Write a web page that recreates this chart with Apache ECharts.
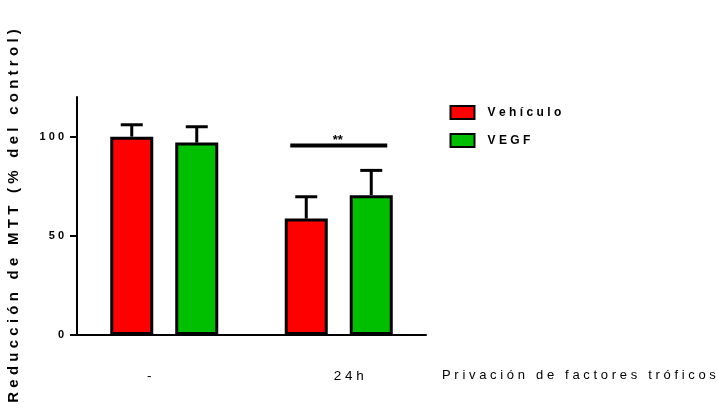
<!DOCTYPE html>
<html>
<head>
<meta charset="utf-8">
<script src="https://cdn.jsdelivr.net/npm/echarts@6/dist/echarts.min.js"></script>
<style>
  html, body { margin: 0; padding: 0; background: #fff; }
  #chart { width: 718px; height: 417px; }
</style>
</head>
<body>
<div id="chart"></div>
<script>
// Groups on the x axis and the two treatments
const categories = ['-', '24h'];
const seriesNames = ['Vehículo', 'VEGF'];

// Mean values (% of control) and the upper error (SEM) of each bar
const vehiculoValues = [100, 58.7];
const vehiculoErrors = [6, 11];
const vegfValues = [97, 70.5];
const vegfErrors = [8, 12.5];

// Significance bracket over the 24h group
const significance = [[1, 95.5, '**']];

// Y axis tick labels
const yTicks = [0, 50, 100];

const RED = '#FF0000';
const GREEN = '#00BF00';
const BAR_W = 43;
const BAR_STEP = 65; // distance between the two bar centres in a group
const FONT = 'Liberation Sans, Arial, sans-serif';

// Widen letter spacing by placing thin + hair spaces between characters
function spaced(s) {
  return Array.from(s).join('\u2009\u200A');
}

const chart = echarts.init(document.getElementById('chart'), null, { renderer: 'canvas' });

function errorBarSeries(values, errors, shift) {
  return {
    type: 'custom',
    silent: true,
    z: 1,
    data: values.map((v, i) => [i, v, v + errors[i]]),
    renderItem: function (params, api) {
      const top = api.coord([api.value(0), api.value(1)]);
      const end = api.coord([api.value(0), api.value(2)]);
      const x = top[0] + shift;
      const style = { stroke: '#000', lineWidth: 3 };
      return {
        type: 'group',
        children: [
          { type: 'line', shape: { x1: x, y1: top[1], x2: x, y2: end[1] }, style: style },
          { type: 'line', shape: { x1: x - 11, y1: end[1], x2: x + 11, y2: end[1] }, style: style }
        ]
      };
    }
  };
}

const option = {
  animation: false,
  backgroundColor: '#fff',
  grid: { left: 77, right: 292, top: 97, bottom: 82, containLabel: false, outerBoundsMode: 'none' },
  legend: {
    orient: 'vertical',
    left: 444.5,
    top: 100,
    itemWidth: 24,
    itemHeight: 13,
    itemGap: 13,
    icon: 'rect',
    data: seriesNames,
    formatter: function (name) { return spaced(name); },
    textStyle: {
      fontFamily: FONT,
      fontWeight: 'bold',
      fontSize: 12,
      color: '#000',
      padding: [0, 0, 0, 8]
    }
  },
  xAxis: {
    type: 'category',
    data: categories,
    name: spaced('Privación de factores tróficos'),
    nameLocation: 'end',
    nameGap: 16,
    nameTextStyle: {
      fontFamily: FONT,
      fontSize: 13,
      color: '#000',
      verticalAlign: 'top',
      padding: [34, 0, 0, 0]
    },
    axisLine: { lineStyle: { color: '#000', width: 2 } },
    axisTick: { alignWithLabel: true, length: 6, lineStyle: { color: '#000', width: 2 } },
    axisLabel: {
      margin: 34,
      color: '#000',
      fontFamily: FONT,
      fontSize: 13.5,
      formatter: function (v, i) {
        return (i === 0 ? '{l|' : '{r|') + spaced(v) + '}';
      },
      rich: {
        l: { fontFamily: FONT, fontSize: 13.5, color: '#000', padding: [0, 30, 0, 0] },
        r: { fontFamily: FONT, fontSize: 13.5, color: '#000', padding: [0, 0, 0, 20] }
      }
    },
    splitLine: { show: false }
  },
  yAxis: {
    type: 'value',
    min: 0,
    max: 120,
    interval: 10,
    name: spaced('Reducción de MTT (% del control)'),
    nameLocation: 'middle',
    nameRotate: 90,
    nameGap: 56,
    nameTextStyle: {
      fontFamily: FONT,
      fontWeight: 'bold',
      fontSize: 15,
      color: '#000'
    },
    axisLine: { show: true, lineStyle: { color: '#000', width: 2 } },
    axisTick: { show: true, length: 7, customValues: yTicks, lineStyle: { color: '#000', width: 2 } },
    axisLabel: {
      margin: 13,
      customValues: yTicks,
      color: '#000',
      fontFamily: FONT,
      fontWeight: 'bold',
      fontSize: 11,
      formatter: function (v) { return spaced(String(v)); }
    },
    splitLine: { show: false }
  },
  series: [
    {
      name: seriesNames[0],
      type: 'bar',
      data: vehiculoValues,
      barWidth: BAR_W,
      barGap: ((BAR_STEP - BAR_W) / BAR_W * 100) + '%',
      itemStyle: { color: RED, borderColor: '#000', borderWidth: 3 },
      z: 2
    },
    {
      name: seriesNames[1],
      type: 'bar',
      data: vegfValues,
      barWidth: BAR_W,
      itemStyle: { color: GREEN, borderColor: '#000', borderWidth: 3 },
      z: 2
    },
    errorBarSeries(vehiculoValues, vehiculoErrors, -BAR_STEP / 2),
    errorBarSeries(vegfValues, vegfErrors, BAR_STEP / 2),
    {
      type: 'custom',
      silent: true,
      z: 3,
      data: significance,
      renderItem: function (params, api) {
        const p = api.coord([api.value(0), api.value(1)]);
        const half = 48.5;
        return {
          type: 'group',
          children: [
            { type: 'line', shape: { x1: p[0] - half, y1: p[1], x2: p[0] + half, y2: p[1] }, style: { stroke: '#000', lineWidth: 4 } },
            {
              type: 'text',
              style: {
                x: p[0] - 1, y: p[1] + 1,
                text: significance[params.dataIndex][2],
                fill: '#000',
                font: 'bold 13px "Liberation Sans", Arial, sans-serif',
                align: 'center',
                verticalAlign: 'bottom'
              }
            }
          ]
        };
      }
    }
  ]
};

chart.setOption(option);
</script>
</body>
</html>
